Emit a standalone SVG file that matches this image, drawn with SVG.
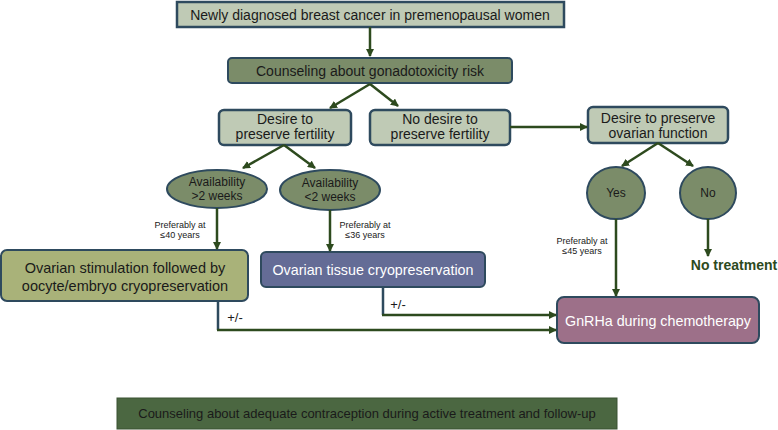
<svg xmlns="http://www.w3.org/2000/svg" width="778" height="430" viewBox="0 0 778 430">
<defs>
<marker id="ah" markerWidth="8" markerHeight="8" refX="7" refY="4" orient="auto" markerUnits="userSpaceOnUse">
<path d="M0,0 L8,4 L0,8 Z" fill="#2d4a1e"/>
</marker>
<style>
text{font-family:"Liberation Sans",Arial,sans-serif;text-anchor:middle;dominant-baseline:central;}
.light{fill:#bfcab5;stroke:#2e4a5e;stroke-width:2.5;}
.mid{fill:#7b8c69;stroke:#2e4a5e;stroke-width:2;}
.t{fill:#1a1a1a;font-size:14px;}
.ts{fill:#1a1a1a;font-size:12px;}
.tn{fill:#1a1a1a;font-size:9px;}
.c{fill:none;stroke:#2d4a1e;stroke-width:2.5;}
.cv{fill:none;stroke:#2e4a5e;stroke-width:2.5;}
</style>
</defs>

<g id="top">
<rect class="light" x="177" y="2" width="387" height="25"/>
<text class="t" x="370" y="15">Newly diagnosed breast cancer in premenopausal women</text>
</g>
<g id="counseling">
<rect class="mid" x="228" y="58" width="284" height="25" rx="4"/>
<text class="t" x="370" y="71">Counseling about gonadotoxicity risk</text>
</g>
<g id="desire-fertility">
<rect class="light" x="219" y="110" width="132" height="35" rx="5" stroke-width="2"/>
<text class="t" x="285" y="119">Desire to</text>
<text class="t" x="285" y="134">preserve fertility</text>
</g>
<g id="no-desire-fertility">
<rect class="light" x="370" y="110" width="140" height="35" rx="5" stroke-width="2"/>
<text class="t" x="440" y="119">No desire to</text>
<text class="t" x="440" y="134">preserve fertility</text>
</g>
<g id="desire-ovarian">
<rect class="light" x="588" y="107" width="140" height="36" rx="5" stroke-width="2"/>
<text class="t" x="658" y="118">Desire to preserve</text>
<text class="t" x="658" y="133">ovarian function</text>
</g>
<g id="avail-gt2">
<ellipse class="mid" cx="217" cy="189" rx="50" ry="19"/>
<text class="ts" x="217" y="182">Availability</text>
<text class="ts" x="217" y="196">&gt;2 weeks</text>
</g>
<g id="avail-lt2">
<ellipse class="mid" cx="330" cy="190" rx="50" ry="20"/>
<text class="ts" x="330" y="183">Availability</text>
<text class="ts" x="330" y="197">&lt;2 weeks</text>
</g>
<g id="yes">
<ellipse class="mid" cx="616" cy="193" rx="29" ry="26"/>
<text class="ts" x="616" y="193">Yes</text>
</g>
<g id="no">
<ellipse class="mid" cx="708" cy="193" rx="28" ry="26"/>
<text class="ts" x="708" y="193">No</text>
</g>
<g id="no-treatment">
<text x="734" y="265" style="font-size:14px;font-weight:bold;fill:#2d4a1e">No treatment</text>
</g>
<g id="ovarian-stimulation">
<rect x="1" y="250" width="247" height="51" rx="6" fill="#a9b279" stroke="#2e4a5e" stroke-width="2"/>
<text class="t" x="125" y="268" style="font-size:14.5px">Ovarian stimulation followed by</text>
<text class="t" x="125" y="286" style="font-size:14.5px">oocyte/embryo cryopreservation</text>
</g>
<g id="ovarian-tissue">
<rect x="261" y="252" width="224" height="35" rx="5" fill="#646c96" stroke="#2e4a5e" stroke-width="2"/>
<text x="373" y="270" style="font-size:14.3px;fill:#ffffff">Ovarian tissue cryopreservation</text>
</g>
<g id="gnrha">
<rect x="557" y="297" width="202" height="46" rx="7" fill="#9d7089" stroke="#2e4a5e" stroke-width="2"/>
<text x="658" y="321" style="font-size:14.3px;fill:#ffffff">GnRHa during chemotherapy</text>
</g>
<g id="contraception">
<rect x="117" y="398" width="500" height="31" fill="#4b6741" stroke="#3a5233" stroke-width="1"/>
<text class="t" x="367" y="413" style="font-size:13px">Counseling about adequate contraception during active treatment and follow-up</text>
</g>

<g id="connectors">
<path class="c" d="M370,27 V56" marker-end="url(#ah)"/>
<path class="c" d="M370,84 L330,108" marker-end="url(#ah)"/>
<path class="c" d="M370,84 L398,106" marker-end="url(#ah)"/>
<path class="c" d="M510,127 H587" marker-end="url(#ah)"/>
<path class="c" d="M658,143 L622,166" marker-end="url(#ah)"/>
<path class="c" d="M658,143 L693,166" marker-end="url(#ah)"/>
<path class="c" d="M284,145 L243,168" marker-end="url(#ah)"/>
<path class="c" d="M284,145 L315,168" marker-end="url(#ah)"/>
<path class="c" d="M217,208 V249" marker-end="url(#ah)"/>
<path class="c" d="M330,210 V251" marker-end="url(#ah)"/>
<path class="c" d="M616,219 V296" marker-end="url(#ah)"/>
<path class="c" d="M708,219 V256" marker-end="url(#ah)"/>
<path class="cv" d="M218,301 V330"/>
<path class="c" d="M217,330 H556" marker-end="url(#ah)"/>
<path class="cv" d="M383,287 V315"/>
<path class="c" d="M382,315 H556" marker-end="url(#ah)"/>
<text class="tn" x="180" y="225">Preferably at</text>
<text class="tn" x="180" y="235">≤40 years</text>
<text class="tn" x="365" y="225">Preferably at</text>
<text class="tn" x="365" y="235">≤36 years</text>
<text class="tn" x="582" y="241">Preferably at</text>
<text class="tn" x="582" y="251">≤45 years</text>
<text class="t" x="235" y="317" style="font-size:13px">+/-</text>
<text class="t" x="398" y="304" style="font-size:13px">+/-</text>
</g>
</svg>
